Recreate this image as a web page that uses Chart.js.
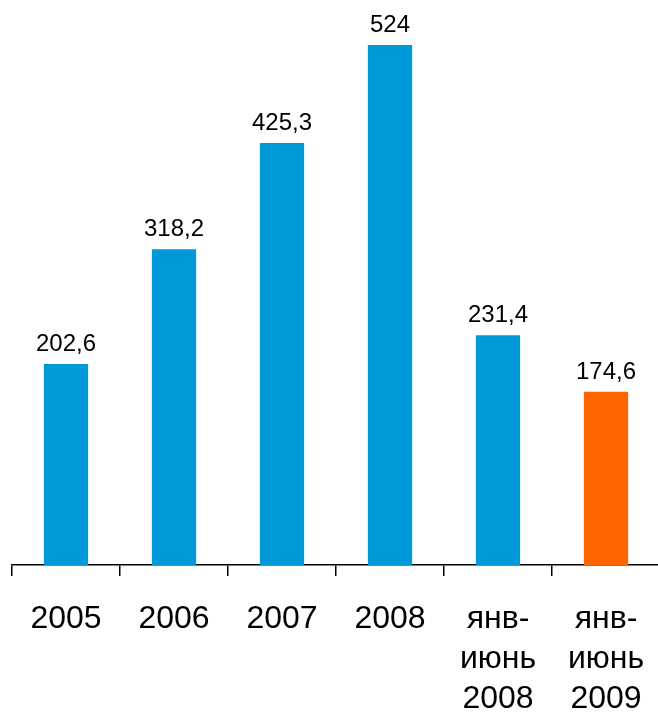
<!DOCTYPE html>
<html>
<head>
<meta charset="utf-8">
<script src="https://cdn.jsdelivr.net/npm/chart.js@4"></script>
<style>
  html, body { margin: 0; padding: 0; background: #fff; overflow: hidden; }
  #wrap { width: 660px; height: 712px; }
</style>
</head>
<body>
<div id="wrap"><canvas id="myChart" width="660" height="712"></canvas></div>
<script>
const categories = [['2005'], ['2006'], ['2007'], ['2008'], ['янв-', 'июнь', '2008'], ['янв-', 'июнь', '2009']];
const values = [202.6, 318.2, 425.3, 524, 231.4, 174.6];
const valueLabels = ['202,6', '318,2', '425,3', '524', '231,4', '174,6'];
const barColors = ['#009ADA', '#009ADA', '#009ADA', '#009ADA', '#009ADA', '#FF6600'];

const FONT = '"Liberation Sans", Arial, sans-serif';

// draw the value above each bar
const valueLabelPlugin = {
    id: 'valueLabels',
    afterDatasetsDraw(chart) {
        const ctx = chart.ctx;
        const meta = chart.getDatasetMeta(0);
        ctx.save();
        ctx.font = '24px ' + FONT;
        ctx.fillStyle = '#000';
        ctx.textAlign = 'center';
        ctx.textBaseline = 'alphabetic';
        meta.data.forEach((bar, i) => {
            ctx.fillText(valueLabels[i], bar.x, bar.y - 13);
        });
        ctx.restore();
    }
};

const ctx = document.getElementById('myChart').getContext('2d');
const myChart = new Chart(ctx, {
    type: 'bar',
    data: {
        labels: categories,
        datasets: [{
            data: values,
            backgroundColor: barColors,
            borderWidth: 0,
            barPercentage: 0.41,
            categoryPercentage: 1
        }]
    },
    options: {
        responsive: false,
        animation: false,
        layout: { padding: { left: 12, right: 0, top: 0, bottom: 0 } },
        plugins: {
            legend: { display: false },
            tooltip: { enabled: false }
        },
        scales: {
            x: {
                offset: true,
                grid: {
                    offset: true,
                    drawOnChartArea: false,
                    drawTicks: true,
                    tickLength: 11,
                    color: '#000',
                    lineWidth: 1.5
                },
                border: { display: true, color: '#000', width: 1.5 },
                ticks: {
                    color: '#000',
                    padding: 23,
                    maxRotation: 0,
                    autoSkip: false,
                    font: { family: FONT, size: 32, lineHeight: 1.25 }
                },
                afterFit(scale) {
                    scale.height = 147;
                    scale.paddingLeft = 0;
                    scale.paddingRight = 0;
                }
            },
            y: {
                display: false,
                min: 0,
                max: 569.3
            }
        }
    },
    plugins: [valueLabelPlugin]
});
</script>
</body>
</html>
